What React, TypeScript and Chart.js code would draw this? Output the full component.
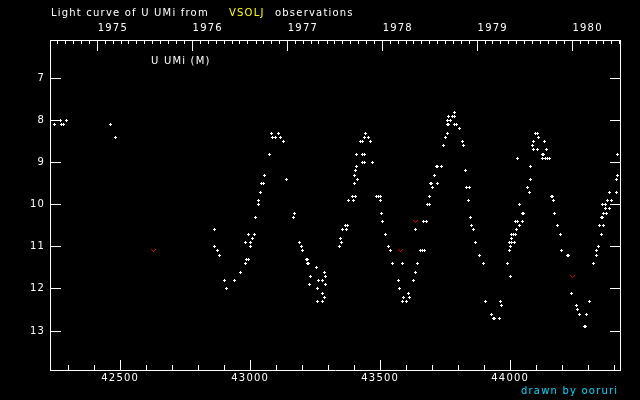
import React, { useEffect, useRef } from "react";
import { Chart, registerables } from "chart.js";

Chart.register(...registerables);

// ---- data (JD - 2400000, visual magnitude) ----
const obsJD = [
  42247, 42270, 42276, 42281, 42293, 42462, 42481,
  42862, 42862, 42873, 42881, 42900, 42908, 42939, 42962, 42981, 42981, 42985, 42993, 42993,
  43000, 43000, 43008, 43016, 43020, 43031, 43031, 43039, 43043, 43050, 43054, 43073, 43081,
  43085, 43097, 43108, 43116, 43127, 43139, 43166, 43170, 43189, 43197, 43200, 43216, 43220,
  43220, 43223, 43227, 43231, 43254, 43258, 43258, 43262, 43277, 43277, 43277, 43285, 43285,
  43289, 43289, 43343, 43347, 43350, 43354, 43366, 43370, 43373, 43377, 43393, 43397, 43400,
  43400, 43404, 43404, 43408, 43408, 43412, 43423, 43431, 43431, 43431, 43439, 43439, 43439,
  43443, 43454, 43462, 43470, 43485, 43493, 43500, 43500, 43504, 43508, 43520, 43531, 43539,
  43547, 43570, 43573, 43585, 43585, 43589, 43600, 43608, 43612, 43627, 43635, 43635, 43643,
  43654, 43662, 43666, 43670, 43677, 43681, 43689, 43689, 43693, 43697, 43700, 43708, 43716,
  43720, 43722, 43735, 43743, 43750, 43758, 43758, 43758, 43762, 43762, 43770, 43777, 43784,
  43785, 43785, 43793, 43804, 43816, 43820, 43827, 43831, 43839, 43843, 43847, 43850, 43858,
  43866, 43881, 43897, 43904, 43927, 43937, 43941, 43958, 43962, 43966, 43989, 43997, 43997,
  44000, 44000, 44004, 44004, 44004, 44012, 44016, 44020, 44020, 44025, 44027, 44027, 44035,
  44035, 44046, 44048, 44050, 44066, 44074, 44077, 44077, 44085, 44089, 44089, 44099, 44104,
  44104, 44108, 44124, 44123, 44127, 44131, 44135, 44139, 44143, 44153, 44160, 44164, 44166,
  44170, 44181, 44193, 44197, 44219, 44223, 44235, 44254, 44258, 44266, 44285, 44289, 44293,
  44304, 44320, 44331, 44331, 44339, 44343, 44350, 44352, 44356, 44358, 44358, 44354, 44366,
  44366, 44370, 44373, 44381, 44381, 44389, 44408, 44408, 44412, 44412,
];
const obsMag = [
  8.1, 8.0, 8.1, 8.1, 8.0, 8.1, 8.4,
  10.6, 11.0, 11.1, 11.2, 11.8, 12.0, 11.8, 11.6, 11.4, 10.9, 11.3, 11.3, 10.7,
  10.9, 11.0, 10.8, 10.7, 10.3, 10.0, 9.9, 9.7, 9.5, 9.5, 9.3, 8.8, 8.3,
  8.4, 8.4, 8.3, 8.4, 8.5, 9.4, 10.3, 10.2, 10.9, 11.0, 11.1, 11.3, 11.3,
  11.4, 11.4, 11.9, 11.7, 11.5, 12.0, 12.3, 11.8, 11.8, 12.1, 12.3, 11.6, 12.2,
  11.7, 11.9, 11.0, 10.8, 10.9, 10.6, 10.5, 10.6, 10.5, 9.9, 9.8, 9.9, 9.5,
  9.3, 9.8, 9.2, 9.1, 8.8, 9.4, 8.5, 8.8, 9.0, 8.5, 8.8, 9.0, 8.4,
  8.3, 8.4, 8.5, 9.0, 9.8, 9.8, 9.8, 9.9, 10.2, 10.4, 10.7, 11.0, 11.1,
  11.4, 11.8, 12.0, 11.4, 12.3, 12.2, 12.3, 12.1, 12.2, 11.8, 11.6, 10.6, 11.4,
  11.1, 11.1, 10.4, 11.1, 10.4, 10.0, 10.0, 9.8, 9.5, 9.5, 9.6, 9.3, 9.1,
  9.5, 9.1, 9.1, 8.6, 8.4, 8.3, 8.1, 8.0, 8.1, 7.9, 8.0, 7.9, 7.9,
  7.8, 8.1, 8.1, 8.2, 8.5, 8.6, 9.2, 9.6, 9.9, 9.6, 10.3, 10.5, 10.6,
  10.9, 11.2, 11.4, 12.3, 12.6, 12.7, 12.7, 12.7, 12.3, 12.4, 11.4, 11.1, 10.9,
  11.7, 11.0, 10.9, 10.8, 10.7, 10.7, 10.9, 10.7, 10.4, 10.6, 10.4, 8.9, 10.5,
  10.0, 10.2, 10.4, 10.2, 9.6, 9.7, 9.4, 9.1, 8.6, 8.5, 8.7, 8.3, 8.3,
  8.7, 8.4, 8.9, 8.8, 8.8, 8.5, 8.9, 8.7, 8.9, 8.9, 9.8, 9.8, 9.9,
  10.2, 10.5, 10.7, 11.1, 11.2, 11.2, 12.1, 12.4, 12.5, 12.6, 12.9, 12.9, 12.6,
  12.3, 11.4, 11.2, 11.1, 11.0, 10.5, 10.7, 10.3, 10.3, 10.5, 10.2, 10.0, 10.1,
  10.0, 10.2, 9.9, 10.1, 9.7, 9.9, 9.7, 9.4, 9.3, 8.8,
];
// "fainter than" estimates (red v marks)
const fainterJD = [42627, 43577, 43635, 44239];
const fainterMag = [11.1, 11.1, 10.4, 11.7];

// ---- axes ----
const yearLabels = [1975, 1976, 1977, 1978, 1979, 1980];
const magTicks = [7, 8, 9, 10, 11, 12, 13];
const jdLabelTicks = [42500, 43000, 43500, 44000];
const JD_MIN = 42230;
const JD_MAX = 44422.3;
const MAG_MIN = 6.09;
const MAG_MAX = 13.926;

const FONT = "'DejaVu Sans', sans-serif";
const SPACING = "1.2px";

function jdOfDate(y: number, m: number): number {
  return Date.UTC(y, m, 1) / 86400000 + 40587.5;
}
const yearJD = yearLabels.map((y) => jdOfDate(y, 0));

function makeSprite(w: number, h: number, color: string, px: number[][]) {
  const c = document.createElement("canvas");
  c.width = w;
  c.height = h;
  const g = c.getContext("2d")!;
  g.fillStyle = color;
  px.forEach(([x, y]) => g.fillRect(x, y, 1, 1));
  return c;
}

export default function App() {
  const ref = useRef<HTMLCanvasElement | null>(null);

  useEffect(() => {
    document.body.style.margin = "0";
    document.body.style.background = "#000";
    const canvas = ref.current!;
    const crossImg = makeSprite(3, 3, "#ffffff", [[1, 0], [0, 1], [1, 1], [2, 1], [1, 2]]);
    const vImg = makeSprite(5, 3, "#e00000", [[0, 0], [4, 0], [1, 1], [3, 1], [2, 2]]);

    const decor = {
      id: "decor",
      beforeDraw(chart: any) {
        const ctx = chart.ctx;
        ctx.save();
        ctx.fillStyle = "#000";
        ctx.fillRect(0, 0, chart.width, chart.height);
        ctx.restore();
        ctx.letterSpacing = SPACING;
      },
      beforeDatasetsDraw(chart: any) {
        chart.ctx.imageSmoothingEnabled = false;
      },
      afterDraw(chart: any) {
        const ctx = chart.ctx;
        const { x, x2, y } = chart.scales;
        const a = chart.chartArea;
        const al = (p: number) => Math.floor(p) + 0.5;
        ctx.save();
        ctx.strokeStyle = "#ffffff";
        ctx.lineWidth = 1;
        ctx.beginPath();
        for (let v = Math.ceil(JD_MIN / 100) * 100; v <= JD_MAX; v += 100) {
          const px = al(x.getPixelForValue(v));
          const len = v % 500 === 0 ? 10 : 5;
          ctx.moveTo(px, a.bottom);
          ctx.lineTo(px, a.bottom - len);
        }
        for (let yr = 1974; yr <= 1981; yr++) {
          for (let m = 0; m < 12; m++) {
            const v = jdOfDate(yr, m);
            if (v <= JD_MIN || v >= JD_MAX) continue;
            const px = al(x2.getPixelForValue(v));
            const len = m === 0 ? 11 : 4;
            ctx.moveTo(px, a.top);
            ctx.lineTo(px, a.top + len);
          }
        }
        magTicks.forEach((v) => {
          const py = al(y.getPixelForValue(v));
          ctx.moveTo(a.left, py);
          ctx.lineTo(a.left + 11, py);
          ctx.moveTo(a.right, py);
          ctx.lineTo(a.right - 10, py);
        });
        ctx.stroke();

        ctx.letterSpacing = SPACING;
        ctx.font = `10px ${FONT}`;
        ctx.textAlign = "left";
        ctx.textBaseline = "alphabetic";
        ctx.fillStyle = "#ffffff";
        ctx.fillText("Light curve of U UMi from", 51, 16);
        ctx.fillStyle = "#ffff00";
        ctx.fillText("VSOLJ", 229, 16);
        ctx.fillStyle = "#ffffff";
        ctx.fillText("observations", 275, 16);
        ctx.fillText("U UMi (M)", 151, 64);
        ctx.fillStyle = "#00d8ff";
        ctx.fillText("drawn by ooruri", 521, 394);
        ctx.restore();
      },
    };

    const tickFont = { family: FONT, size: 10 };
    const chart = new Chart(canvas, {
      type: "scatter",
      data: {
        datasets: [
          {
            data: obsJD.map((v, i) => ({ x: v, y: obsMag[i] })),
            pointStyle: crossImg as any,
            pointRadius: 2,
            xAxisID: "x",
            yAxisID: "y",
          },
          {
            data: fainterJD.map((v, i) => ({ x: v, y: fainterMag[i] })),
            pointStyle: vImg as any,
            pointRadius: 2,
            xAxisID: "x",
            yAxisID: "y",
          },
        ],
      },
      options: {
        responsive: false,
        animation: false,
        events: [],
        layout: { padding: 0 },
        plugins: {
          legend: { display: false },
          tooltip: { enabled: false },
          title: { display: false },
        },
        scales: {
          x: {
            type: "linear",
            position: "bottom",
            min: JD_MIN,
            max: JD_MAX,
            grid: { display: false, drawTicks: false },
            border: { display: true, color: "#ffffff", width: 1 },
            ticks: {
              color: "#ffffff",
              font: tickFont,
              padding: 2,
              autoSkip: false,
              maxRotation: 0,
              callback: (v: any) => String(v),
            },
            afterBuildTicks: (s: any) => {
              s.ticks = jdLabelTicks.map((value) => ({ value }));
            },
            afterFit: (s: any) => {
              s.height = 30;
            },
          },
          x2: {
            type: "linear",
            position: "top",
            min: JD_MIN,
            max: JD_MAX,
            grid: { display: false, drawTicks: false },
            border: { display: true, color: "#ffffff", width: 1 },
            ticks: {
              color: "#ffffff",
              font: tickFont,
              padding: 6,
              align: "start",
              autoSkip: false,
              maxRotation: 0,
              callback: (v: any) => {
                const i = yearJD.indexOf(v);
                return i >= 0 ? String(yearLabels[i]) : "";
              },
            },
            afterBuildTicks: (s: any) => {
              s.ticks = yearJD.map((value) => ({ value }));
            },
            afterFit: (s: any) => {
              s.height = 40;
            },
          },
          y: {
            type: "linear",
            position: "left",
            reverse: true,
            min: MAG_MIN,
            max: MAG_MAX,
            grid: { display: false, drawTicks: false },
            border: { display: true, color: "#ffffff", width: 1 },
            ticks: {
              color: "#ffffff",
              font: tickFont,
              padding: 5,
              autoSkip: false,
              callback: (v: any) => String(v),
            },
            afterBuildTicks: (s: any) => {
              s.ticks = magTicks.map((value) => ({ value }));
            },
            afterFit: (s: any) => {
              s.width = 50;
            },
          },
          y2: {
            type: "linear",
            position: "right",
            reverse: true,
            min: MAG_MIN,
            max: MAG_MAX,
            grid: { display: false, drawTicks: false },
            border: { display: true, color: "#ffffff", width: 1 },
            ticks: { display: false },
            afterFit: (s: any) => {
              s.width = 20;
            },
          },
        },
      } as any,
      plugins: [decor as any],
    });
    return () => chart.destroy();
  }, []);

  return (
    <canvas
      ref={ref}
      width={640}
      height={400}
      style={{ position: "absolute", left: 0, top: 0, display: "block", background: "#000" }}
    />
  );
}
